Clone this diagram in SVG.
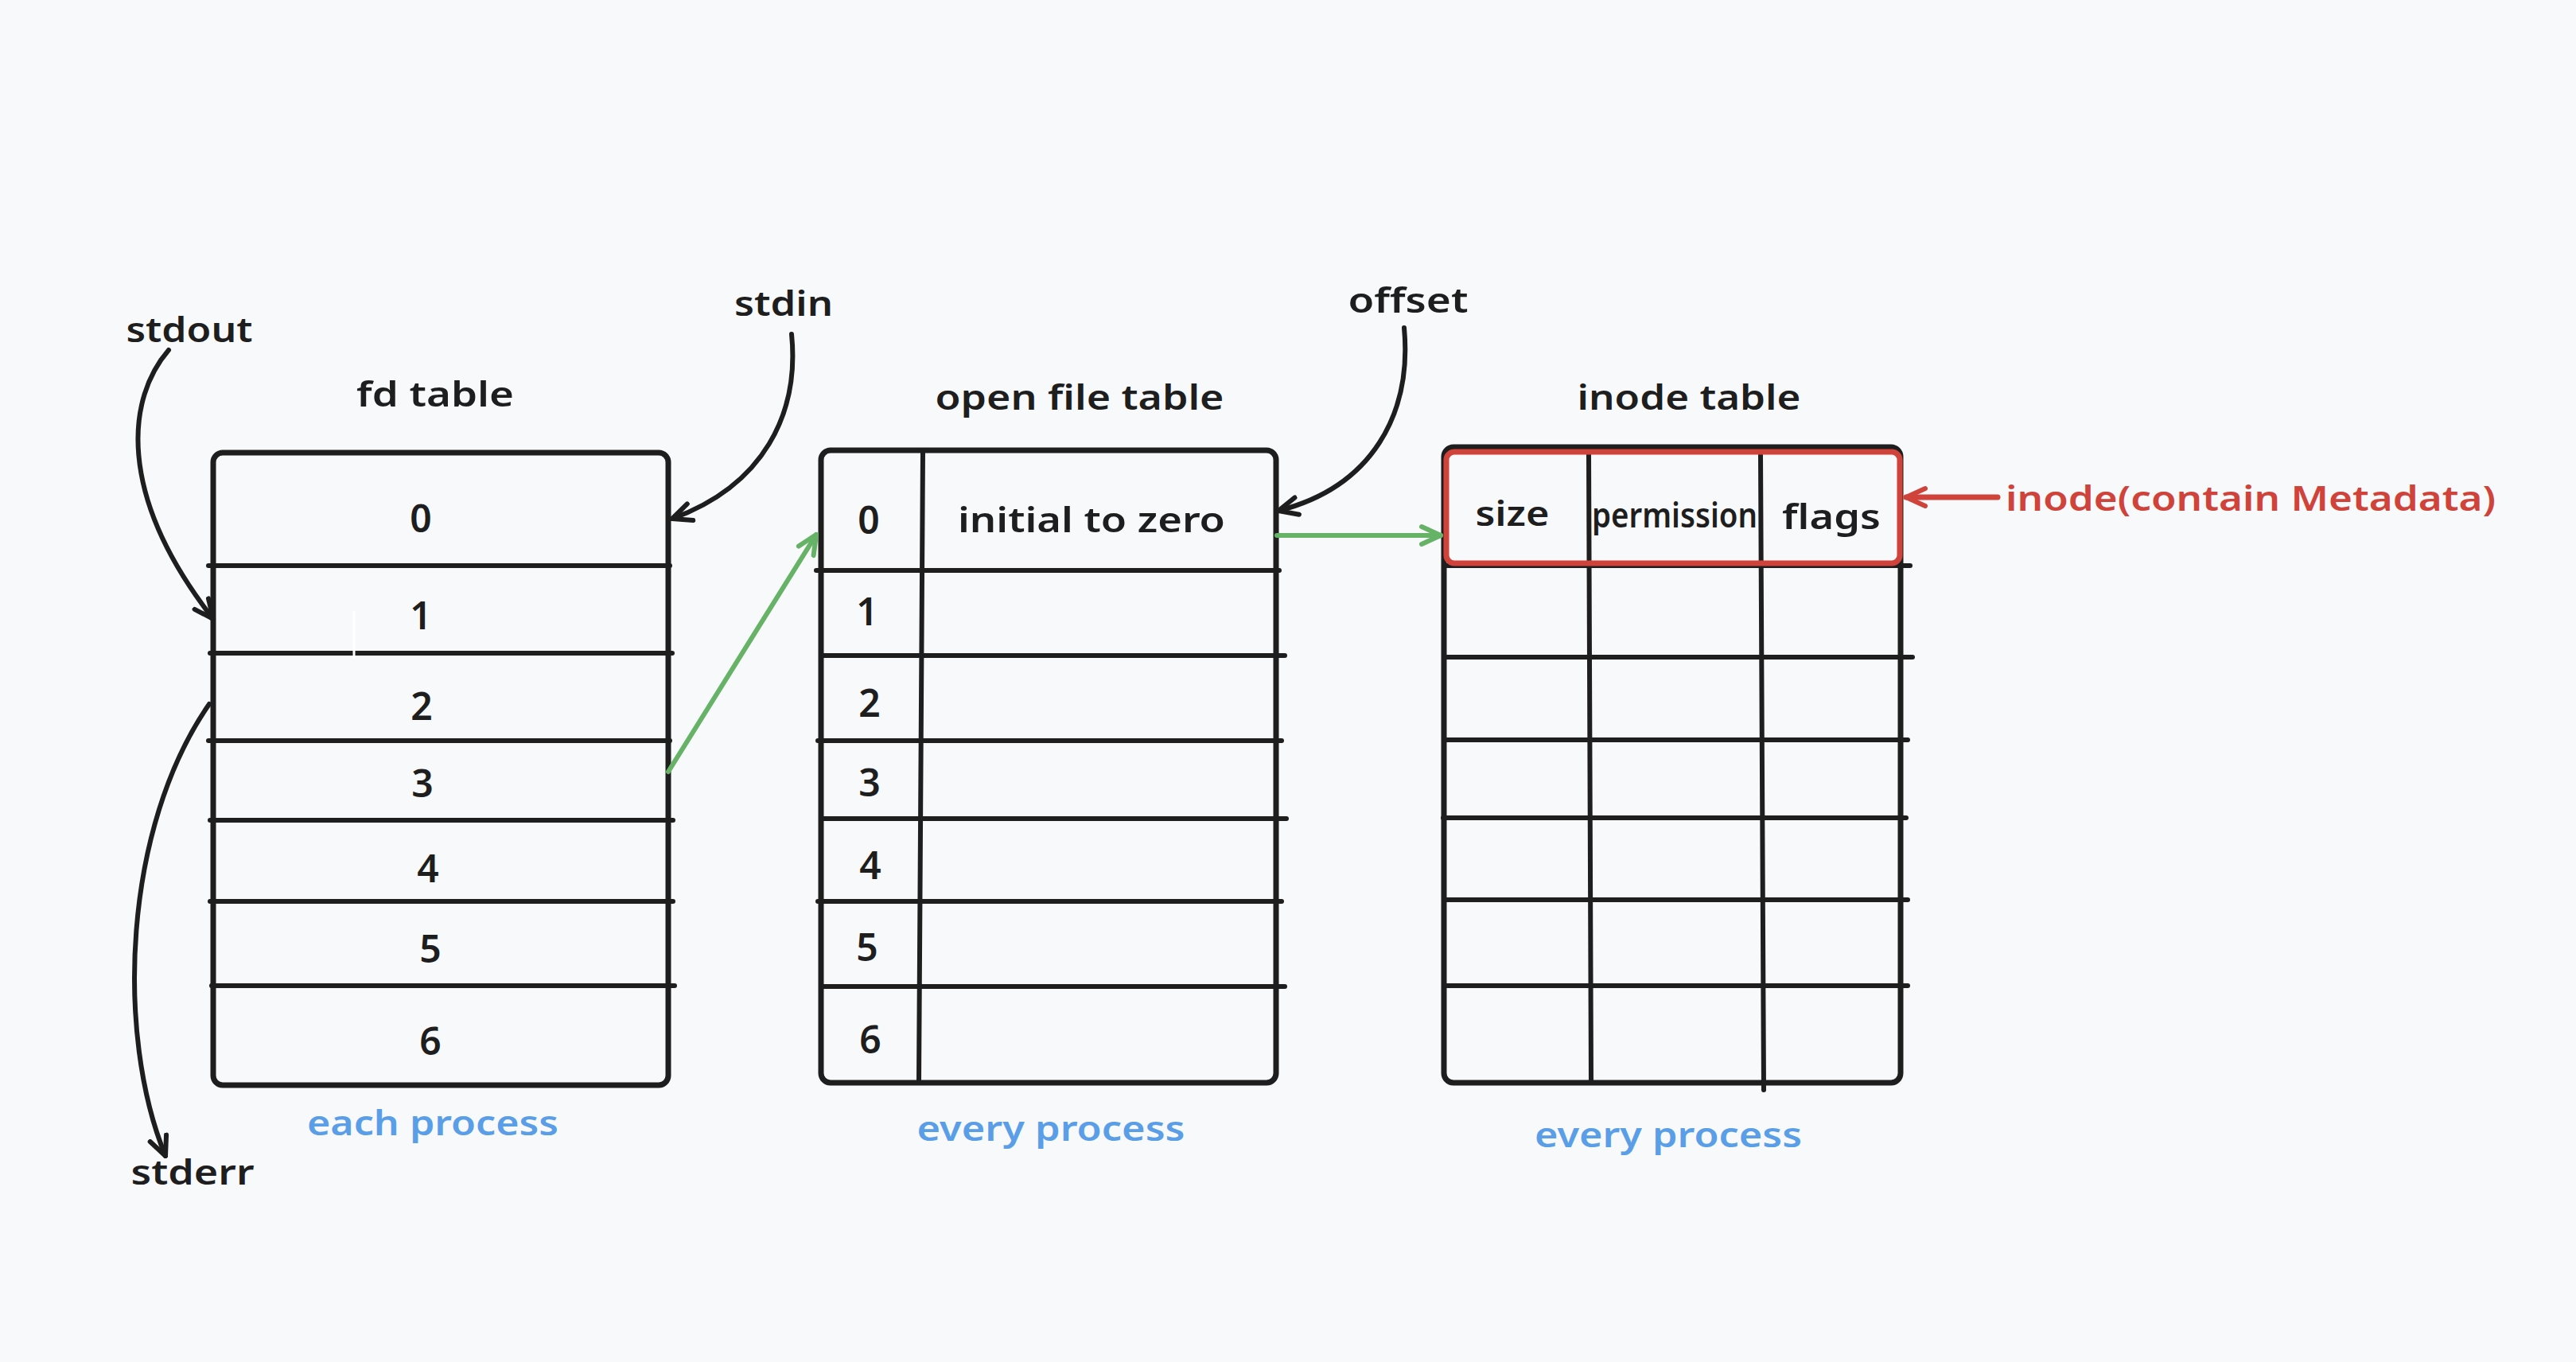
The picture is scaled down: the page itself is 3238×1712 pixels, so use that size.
<svg xmlns="http://www.w3.org/2000/svg" width="3238" height="1712" viewBox="0 0 3238 1712">
<defs>
<style>
.bg{fill:#f8f9fb}
.box{fill:none;stroke:#1e1e1e;stroke-width:7;stroke-linejoin:round}
.ln{stroke:#1e1e1e;stroke-width:6;stroke-linecap:round;fill:none}
.t{font-family:"Noto Sans","Liberation Sans",sans-serif;font-weight:600;fill:#1e1e1e;font-size:44px;text-anchor:middle;dominant-baseline:central}
.d{font-size:48px}
.blue{fill:#5b9ee8}
.red{fill:#d0433a}
.ar{fill:none;stroke:#1e1e1e;stroke-width:6;stroke-linecap:round}
.g{fill:none;stroke:#66b266;stroke-width:6;stroke-linecap:round}
.r{fill:none;stroke:#d0433a;stroke-width:7;stroke-linecap:round}
</style>
<marker id="mk" viewBox="0 0 30 30" refX="27" refY="15" markerWidth="30" markerHeight="30" markerUnits="userSpaceOnUse" orient="auto">
<path d="M3,4 L27,15 L3,26" fill="none" stroke="#1e1e1e" stroke-width="6" stroke-linecap="round" stroke-linejoin="round"/>
</marker>
<marker id="mg" viewBox="0 0 30 30" refX="27" refY="15" markerWidth="30" markerHeight="30" markerUnits="userSpaceOnUse" orient="auto">
<path d="M3,4 L27,15 L3,26" fill="none" stroke="#66b266" stroke-width="6" stroke-linecap="round" stroke-linejoin="round"/>
</marker>
<marker id="mr" viewBox="0 0 30 30" refX="27" refY="15" markerWidth="30" markerHeight="30" markerUnits="userSpaceOnUse" orient="auto">
<path d="M3,4 L27,15 L3,26" fill="none" stroke="#d0433a" stroke-width="6" stroke-linecap="round" stroke-linejoin="round"/>
</marker>
</defs>
<rect class="bg" x="0" y="0" width="3238" height="1712"/>

<g id="fd-table">
<text class="t" x="547" y="494" textLength="198" lengthAdjust="spacingAndGlyphs">fd table</text>
<rect class="box" x="268" y="569" width="572" height="795" rx="12"/>
<line class="ln" x1="262" y1="711" x2="842" y2="711"/>
<line class="ln" x1="264" y1="821" x2="845" y2="821"/>
<line class="ln" x1="262" y1="931" x2="842" y2="931"/>
<line class="ln" x1="264" y1="1031" x2="846" y2="1031"/>
<line class="ln" x1="264" y1="1133" x2="846" y2="1133"/>
<line class="ln" x1="266" y1="1239" x2="848" y2="1239"/>
<line x1="445" y1="768" x2="445" y2="828" stroke="#ffffff" stroke-width="3"/>
<text class="t d" x="529" y="650">0</text>
<text class="t d" x="529" y="772">1</text>
<text class="t d" x="530" y="886">2</text>
<text class="t d" x="531" y="983">3</text>
<text class="t d" x="538" y="1090">4</text>
<text class="t d" x="541" y="1191">5</text>
<text class="t d" x="541" y="1307">6</text>
<text class="t blue" x="544" y="1410" textLength="316" lengthAdjust="spacingAndGlyphs">each process</text>
</g>

<g id="open-file-table">
<text class="t" x="1357" y="498" textLength="363" lengthAdjust="spacingAndGlyphs">open file table</text>
<rect class="box" x="1032" y="566" width="572" height="795" rx="12"/>
<line class="ln" x1="1160" y1="568" x2="1155" y2="1359"/>
<line class="ln" x1="1026" y1="717" x2="1608" y2="717"/>
<line class="ln" x1="1034" y1="824" x2="1615" y2="824"/>
<line class="ln" x1="1028" y1="931" x2="1611" y2="931"/>
<line class="ln" x1="1034" y1="1029" x2="1617" y2="1029"/>
<line class="ln" x1="1028" y1="1133" x2="1611" y2="1133"/>
<line class="ln" x1="1034" y1="1240" x2="1615" y2="1240"/>
<text class="t d" x="1092" y="652">0</text>
<text class="t d" x="1090" y="767">1</text>
<text class="t d" x="1093" y="882">2</text>
<text class="t d" x="1093" y="982">3</text>
<text class="t d" x="1094" y="1086">4</text>
<text class="t d" x="1090" y="1189">5</text>
<text class="t d" x="1094" y="1305">6</text>
<text class="t" x="1372" y="652" textLength="336" lengthAdjust="spacingAndGlyphs">initial to zero</text>
<text class="t blue" x="1321" y="1417" textLength="337" lengthAdjust="spacingAndGlyphs">every process</text>
</g>

<g id="inode-table">
<text class="t" x="2123" y="498" textLength="281" lengthAdjust="spacingAndGlyphs">inode table</text>
<rect class="box" x="1815" y="562" width="574" height="799" rx="12"/>
<line class="ln" x1="1997" y1="570" x2="2000" y2="1359"/>
<line class="ln" x1="2213" y1="572" x2="2217" y2="1370"/>
<line class="ln" x1="1817" y1="711" x2="2401" y2="711"/>
<line class="ln" x1="1817" y1="826" x2="2404" y2="826"/>
<line class="ln" x1="1817" y1="930" x2="2398" y2="930"/>
<line class="ln" x1="1814" y1="1028" x2="2396" y2="1028"/>
<line class="ln" x1="1817" y1="1131" x2="2398" y2="1131"/>
<line class="ln" x1="1817" y1="1239" x2="2398" y2="1239"/>
<rect x="1818" y="568" width="570" height="140" rx="10" fill="none" stroke="#d0433a" stroke-width="7"/>
<text class="t" x="1901" y="644" textLength="93" lengthAdjust="spacingAndGlyphs">size</text>
<text class="t" x="2105" y="646" font-size="36" textLength="208" lengthAdjust="spacingAndGlyphs">permission</text>
<text class="t" x="2302" y="648" textLength="124" lengthAdjust="spacingAndGlyphs">flags</text>
<text class="t blue" x="2097" y="1425" textLength="336" lengthAdjust="spacingAndGlyphs">every process</text>
</g>

<g id="labels">
<text class="t" x="238" y="413" textLength="159" lengthAdjust="spacingAndGlyphs">stdout</text>
<text class="t" x="985" y="380" textLength="124" lengthAdjust="spacingAndGlyphs">stdin</text>
<text class="t" x="1770" y="376" textLength="151" lengthAdjust="spacingAndGlyphs">offset</text>
<text class="t" x="242" y="1472" textLength="155" lengthAdjust="spacingAndGlyphs">stderr</text>
<text class="t red" x="2829" y="625" textLength="616" lengthAdjust="spacingAndGlyphs">inode(contain Metadata)</text>
</g>

<g id="connectors">
<path class="ar" d="M212,440 C160,500 145,620 268,778" marker-end="url(#mk)"/>
<path class="ar" d="M263,885 C155,1040 145,1300 208,1453" marker-end="url(#mk)"/>
<path class="ar" d="M995,420 C1005,520 960,610 845,652" marker-end="url(#mk)"/>
<path class="ar" d="M1765,412 C1775,520 1725,612 1607,642" marker-end="url(#mk)"/>
<path class="g" d="M840,970 L1026,672" marker-end="url(#mg)"/>
<path class="g" d="M1605,673 L1811,673" marker-end="url(#mg)"/>
<path class="r" d="M2511,625 L2396,625" marker-end="url(#mr)"/>
</g>
</svg>
